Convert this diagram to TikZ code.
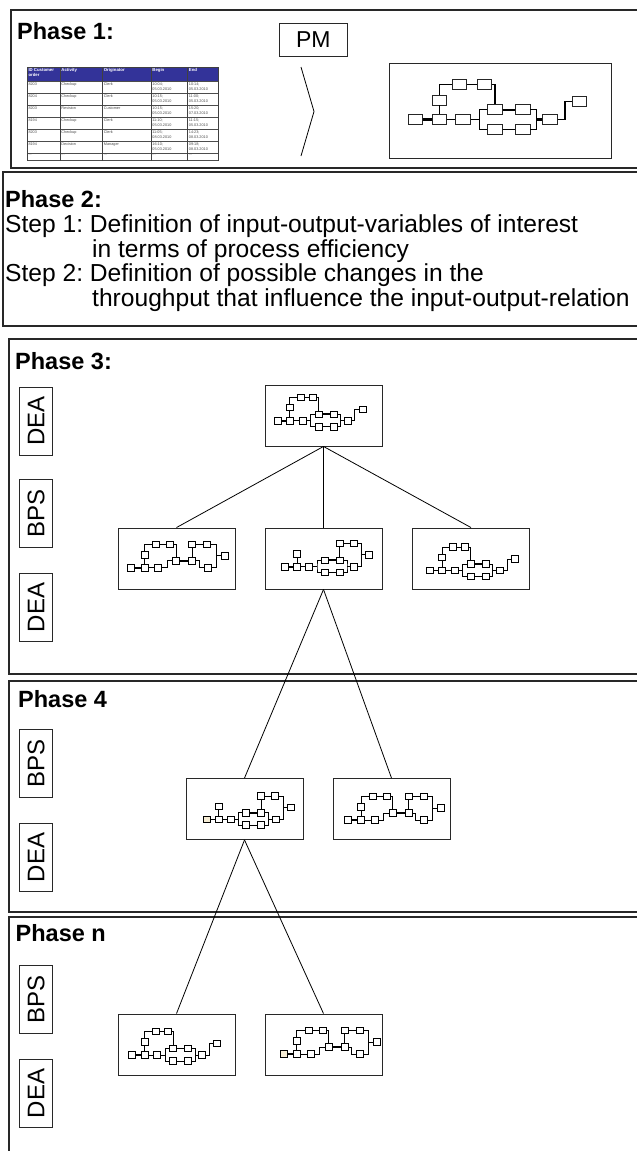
\documentclass[tikz,border=0pt]{standalone}
\usepackage{fontspec}
\setmainfont{Liberation Sans}
\usetikzlibrary{calc}
\frenchspacing
\definecolor{hdrblue}{RGB}{51,51,153}
\definecolor{beige}{RGB}{245,236,212}
\definecolor{framecol}{RGB}{40,40,40}
\tikzset{
  frame/.style={draw=framecol, line width=1.1pt},
  mbox/.style={draw=framecol, line width=0.9pt, minimum width=117pt, minimum height=61pt, inner sep=0pt},
  sidebox/.style={draw=framecol, line width=0.9pt, minimum width=68pt, minimum height=33pt, inner sep=0pt, rotate=90, font=\fontsize{24}{24}\selectfont},
  pmbox/.style={draw=framecol, line width=0.9pt, minimum width=68.7pt, minimum height=33.4pt, inner sep=0pt, font=\fontsize{23}{23}\selectfont},
  mnode/.style={draw=black, fill=white, line width=0.6pt, minimum width=7pt, minimum height=6.5pt, inner sep=0pt},
  startnode/.style={mnode},
  bnode/.style={draw=black!85, fill=white, line width=0.9pt, minimum width=14.3pt, minimum height=10pt, inner sep=0pt},
  mline/.style={line width=0.7pt},
  mthick/.style={line width=1.6pt},
  bline/.style={line width=1.1pt},
  bthick/.style={line width=2.4pt},
  tree/.style={line width=0.8pt},
  phase/.style={anchor=base west, inner sep=0pt, font=\fontsize{23.5}{28}\selectfont\bfseries},
  body/.style={anchor=base west, inner sep=0pt, font=\fontsize{24.6}{28}\selectfont},
  tcell/.style={anchor=north west, inner sep=0pt, align=left, font=\fontsize{3.8}{4.6}\selectfont, text=black!70},
  thead/.style={anchor=north west, inner sep=0pt, align=left, font=\fontsize{4.3}{5}\selectfont\bfseries, text=white},
  tgrid/.style={draw=black!75, line width=0.5pt},
  hgrid/.style={draw=black!70, line width=1pt},
  modelBig/.pic={
    \node[bnode] (-n1) at (0,0) {};
    \node[bnode] (-n2) at (24.4,0) {};
    \node[bnode] (-n3) at (24.4,-19.3) {};
    \node[bnode] (-n4) at (44.4,-35) {};
    \node[bnode] (-n5) at (69.2,-35) {};
    \node[bnode] (-n6) at (47.7,0) {};
    \node[bnode] (-n7) at (79.7,-9.6) {};
    \node[bnode] (-n8) at (107.5,-9.6) {};
    \node[bnode] (-n9) at (79.7,9.9) {};
    \node[bnode] (-n10) at (107.5,9.9) {};
    \node[bnode] (-n11) at (134.7,0) {};
    \node[bnode] (-n12) at (164.2,-17.6) {};
    \coordinate (-sp) at (64,0);
    \coordinate (-jn) at (121.4,0);
    \coordinate (-en) at (149.7,0);
    \draw[bthick] (-n1) -- (-n2);
    \draw[bline] (-n2) -- (-n3);
    \draw[bline] (-n3.north) |- (-n4.west);
    \draw[bline] (-n4) -- (-n5);
    \draw[bline] (-n5.east) -| (-n7.north);
    \draw[bline] (-n2) -- (-n6);
    \draw[bline] (-n6) -- (-sp);
    \draw[bline] (-n7.west) -| (-sp) |- (-n9.west);
    \draw[bthick] (-n7) -- (-n8);
    \draw[bline] (-n9) -- (-n10);
    \draw[bline] (-n8.east) -| (-jn) |- (-n10.east);
    \draw[bthick] (-jn) -- (-n11);
    \draw[bline] (-n11) -- (-en) |- (-n12.west);
  },
  modelA/.pic={
    \node[startnode] (-n1) at (0,0) {};
    \node[mnode] (-n2) at (12.5,0) {};
    \node[mnode] (-n3) at (12.5,-13.3) {};
    \node[mnode] (-n4) at (23.5,-23.5) {};
    \node[mnode] (-n5) at (35.5,-23.5) {};
    \node[mnode] (-n6) at (25,0) {};
    \node[mnode] (-n7) at (41,-6.5) {};
    \node[mnode] (-n8) at (56,-6.5) {};
    \node[mnode] (-n9) at (41,6) {};
    \node[mnode] (-n10) at (56,6) {};
    \node[mnode] (-n11) at (70,0) {};
    \node[mnode] (-n12) at (85,-11.5) {};
    \coordinate (-sp) at (33,0);
    \coordinate (-jn) at (63,0);
    \coordinate (-en) at (77.5,0);
    \draw[mthick] (-n1) -- (-n2);
    \draw[mline] (-n2) -- (-n3);
    \draw[mline] (-n3.north) |- (-n4.west);
    \draw[mline] (-n4) -- (-n5);
    \draw[mline] (-n5.east) -| (-n7.north);
    \draw[mline] (-n2) -- (-n6);
    \draw[mline] (-n6) -- (-sp);
    \draw[mline] (-n7.west) -| (-sp) |- (-n9.west);
    \draw[mthick] (-n7) -- (-n8);
    \draw[mline] (-n9) -- (-n10);
    \draw[mline] (-n8.east) -| (-jn) |- (-n10.east);
    \draw[mline] (-jn) -- (-n11);
    \draw[mline] (-n11) -- (-en) |- (-n12.west);
  },
  modelB/.pic={
    \node[startnode] (-n1) at (0,0) {};
    \node[mnode] (-n2) at (13.5,0) {};
    \node[mnode] (-n3) at (13.5,-13) {};
    \node[mnode] (-n4) at (25,-23.5) {};
    \node[mnode] (-n5) at (39,-23.5) {};
    \node[mnode] (-n6) at (27,0) {};
    \node[mnode] (-n7) at (45,-7) {};
    \node[mnode] (-n8) at (61,-7) {};
    \node[mnode] (-n9) at (61,-23.5) {};
    \node[mnode] (-n10) at (76,-23.5) {};
    \node[mnode] (-n11) at (76.5,0) {};
    \node[mnode] (-n12) at (93.5,-12) {};
    \coordinate (-a) at (36,0);
    \coordinate (-b) at (68,-7);
    \coordinate (-c) at (85,-23.5);
    \coordinate (-d) at (85,-12);
    \draw[mthick] (-n1) -- (-n2);
    \draw[mline] (-n2) -- (-n3);
    \draw[mline] (-n3.north) |- (-n4.west);
    \draw[mline] (-n4) -- (-n5);
    \draw[mline] (-n5.east) -| (-n7.north);
    \draw[mline] (-n2) -- (-n6);
    \draw[mline] (-n6) -- (-a) |- (-n7.west);
    \draw[mthick] (-n7) -- (-n8);
    \draw[mline] (-n8) -- (-n9);
    \draw[mline] (-n9) -- (-n10);
    \draw[mline] (-n8.east) -- (-b) |- (-n11.west);
    \draw[mline] (-n10.east) -- (-c) |- (-n11.east);
    \draw[mline] (-d) -- (-n12);
  },
  modelC/.pic={
    \node[startnode] (-n1) at (0,0) {};
    \node[mnode] (-n2) at (12,0) {};
    \node[mnode] (-n3) at (12,-13) {};
    \node[mnode] (-n4) at (24,0) {};
    \node[mnode] (-n5) at (39.5,-6.5) {};
    \node[mnode] (-n6) at (54.5,-6.5) {};
    \node[mnode] (-n7) at (39.5,5.7) {};
    \node[mnode] (-n8) at (54.5,5.7) {};
    \node[mnode] (-n9) at (54.5,-23.3) {};
    \node[mnode] (-n10) at (68.5,-23.3) {};
    \node[mnode] (-n11) at (69,0) {};
    \node[mnode] (-n12) at (84,-12) {};
    \coordinate (-sp) at (32,0);
    \coordinate (-jn) at (62,0);
    \coordinate (-c) at (76.5,-23.3);
    \coordinate (-d) at (76.5,-12);
    \draw[mthick] (-n1) -- (-n2);
    \draw[mline] (-n2) -- (-n3);
    \draw[mline] (-n2) -- (-n4);
    \draw[mline] (-n4) -- (-sp);
    \draw[mline] (-n5.west) -| (-sp) |- (-n7.west);
    \draw[mthick] (-n5) -- (-n6);
    \draw[mline] (-n7) -- (-n8);
    \draw[mline] (-n6) -- (-n9);
    \draw[mline] (-n9) -- (-n10);
    \draw[mline] (-n6.east) -| (-jn) |- (-n8.east);
    \draw[mline] (-jn) -- (-n11);
    \draw[mline] (-n10.east) -- (-c) |- (-n11.east);
    \draw[mline] (-d) -- (-n12);
  }
}
\newcommand\mytrow[8]{%
  \pgfmathsetmacro\rowy{82.6+12*(#1-1)}%
  \node[tcell] (r#1c1) at (28.3,\rowy) {#2};
  \node[tcell] (r#1c2) at (61.2,\rowy) {#3};
  \node[tcell] (r#1c3) at (103.7,\rowy) {#4};
  \node[tcell] (r#1c4) at (152.2,\rowy) {#5\\#6};
  \node[tcell] (r#1c5) at (188.7,\rowy) {#7\\#8};
}
\begin{document}
\begin{tikzpicture}[x=1pt,y=-1pt]
\useasboundingbox (0,0) rectangle (637,1151);
\clip (0,0) rectangle (637,1151);

% phase frames
\draw[frame] (11,10) rectangle (660,168);
\draw[frame] (3,172) rectangle (660,326);
\draw[frame] (9,339) rectangle (660,674);
\draw[frame] (9,681) rectangle (660,912);
\draw[frame] (9,917) rectangle (660,1175);

% ---------- Phase 1 ----------
\node[phase] (ph1) at (17,39) {Phase 1:};
\node[pmbox] (pm) at (313.3,40) {PM};
\coordinate (chA) at (301,67);
\coordinate (chB) at (314,111.5);
\coordinate (chC) at (301,156);
\draw[line width=0.8pt] (chA) -- (chB) -- (chC);
\node[draw=framecol, line width=0.9pt, minimum width=222pt, minimum height=95pt, inner sep=0pt] (pmmodel) at (500.5,110.9) {};
\pic (big) at (415.3,119.3) {modelBig};

% event log table
\fill[hdrblue] (27,67) rectangle (218,81.5);
\foreach \yy in {81.5,93.5,105.5,117.5,129.5,141.5,160.5}
  \draw[hgrid] (27,\yy) -- (218,\yy);
\draw[hgrid, line width=1.6pt] (27,153.5) -- (218,153.5);
\foreach \xx in {27,60,102.5,151,187.5,218}
  \draw[tgrid] (\xx,67) -- (\xx,160.5);
\draw[tgrid] (27,67) -- (218,67);
\node[thead] (h1) at (28.3,68.2) {ID Customer\\order};
\node[thead] (h2) at (61.2,68.2) {Activity};
\node[thead] (h3) at (103.7,68.2) {Originator};
\node[thead] (h4) at (152.2,68.2) {Begin};
\node[thead] (h5) at (188.7,68.2) {End};
\mytrow{1}{8203}{Checkup}{Clerk}{10:04;}{05.03.2010}{10:14;}{05.03.2010}
\mytrow{2}{8204}{Checkup}{Clerk}{10:15;}{05.03.2010}{11:00;}{05.03.2010}
\mytrow{3}{8203}{Revision}{Customer}{10:15;}{05.03.2010}{15:20;}{07.03.2010}
\mytrow{4}{8194}{Checkup}{Clerk}{11:10;}{05.03.2010}{11:15;}{05.03.2010}
\mytrow{5}{8203}{Checkup}{Clerk}{11:05;}{08.03.2010}{14:23;}{08.03.2010}
\mytrow{6}{8194}{Decision}{Manager}{16:10;}{05.03.2010}{09:18;}{08.03.2010}
\node[tcell] (r7c1) at (28.3,154.6) {...};
\node[tcell] (r7c2) at (61.2,154.6) {...};
\node[tcell] (r7c3) at (103.7,154.6) {...};
\node[tcell] (r7c4) at (152.2,154.6) {...};
\node[tcell] (r7c5) at (188.7,154.6) {...};

% ---------- Phase 2 ----------
\node[phase] (ph2) at (5,207) {Phase 2:};
\node[body] (s1a) at (5,232.5) {Step 1: Definition of input-output-variables of interest};
\node[body] (s1b) at (92,257) {in terms of process efficiency};
\node[body] (s2a) at (5,281.5) {Step 2: Definition of possible changes in the};
\node[body] (s2b) at (92,306) {throughput that influence the input-output-relation};

% ---------- Phase 3 ----------
\node[phase] (ph3) at (15,369) {Phase 3:};
\node[sidebox] (p3d1) at (36.2,421) {DEA};
\node[sidebox] (p3b) at (36.2,513.5) {BPS};
\node[sidebox] (p3d2) at (36.2,607.5) {DEA};

\node[mbox] (p3top) at (323.5,415.5) {};
\node[mbox] (p3left) at (176.5,558.5) {};
\node[mbox] (p3mid) at (323.5,558.5) {};
\node[mbox] (p3right) at (471,558.5) {};

% ---------- Phase 4 ----------
\node[phase] (ph4) at (18,707) {Phase 4};
\node[sidebox] (p4b) at (36.2,763.8) {BPS};
\node[sidebox] (p4d) at (36.2,857.5) {DEA};
\node[mbox] (p4left) at (244.5,809) {};
\node[mbox] (p4right) at (391.5,809) {};

% ---------- Phase n ----------
\node[phase] (phn) at (15.5,941.5) {Phase n};
\node[sidebox] (pnb) at (36.2,999.8) {BPS};
\node[sidebox] (pnd) at (36.2,1093.5) {DEA};
\node[mbox] (pnleft) at (176.5,1044.5) {};
\node[mbox] (pnright) at (323.5,1044.5) {};

% tree connectors
\draw[tree] (p3top.south) -- (p3left.north);
\draw[tree] (p3top.south) -- (p3mid.north);
\draw[tree] (p3top.south) -- (p3right.north);
\draw[tree] (p3mid.south) -- (p4left.north);
\draw[tree] (p3mid.south) -- (p4right.north);
\draw[tree] (p4left.south) -- (pnleft.north);
\draw[tree] (p4left.south) -- (pnright.north);

% process models
\pic (m3top) at (277.3,420.7) {modelA};
\pic (m3left) at (130.9,567.7) {modelB};
\pic (m3mid) at (285,566.7) {modelC};
\pic (m3right) at (429.5,570.5) {modelA};
\pic[startnode/.style={mnode,fill=beige}] (m4left) at (206.5,819.3) {modelC};
\pic (m4right) at (347.6,820) {modelB};
\pic (mnleft) at (132.1,1055) {modelA};
\pic[startnode/.style={mnode,fill=beige}] (mnright) at (283.3,1054) {modelB};
\end{tikzpicture}
\end{document}
